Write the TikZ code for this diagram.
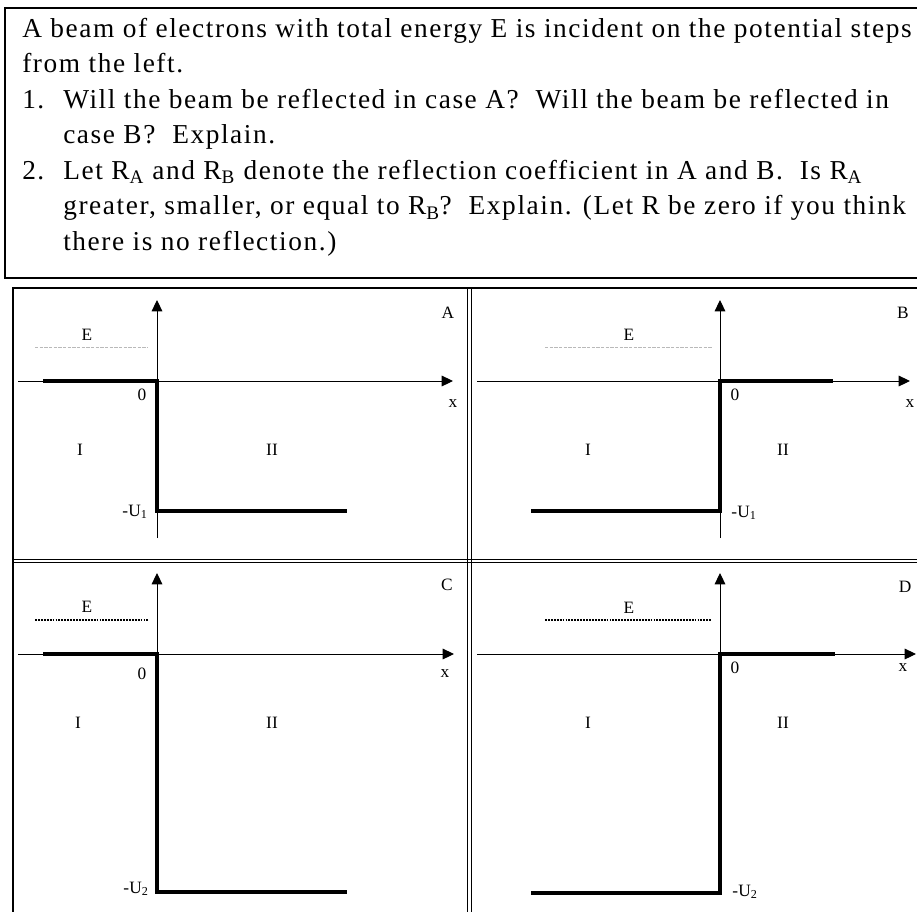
\documentclass[tikz,border=0pt]{standalone}
\usepackage{fontspec}
\setmainfont{Liberation Serif}
\usetikzlibrary{arrows.meta}

\begin{document}
\begin{tikzpicture}[
    x=0.75pt, y=-0.75pt,
    frame/.style={
        draw=black,
        line width=1.1pt
    },
    divider/.style={
        draw=black,
        line width=0.6pt
    },
    axis/.style={
        line width=0.75pt,
        -{Triangle[length=8.5pt, width=8pt]}
    },
    potential/.style={
        line width=3.2pt,
        line join=miter
    },
    energyfaint/.style={
        draw=gray!55,
        line width=0.6pt,
        dash pattern=on 2.5pt off 1pt
    },
    energydot/.style={
        draw=black,
        line width=0.9pt,
        dash pattern=on 1.4pt off 0.8pt
    },
    qtext/.style={
        align=left,
        inner sep=0pt,
        font=\fontsize{20.5}{26.6}\selectfont\addfontfeatures{LetterSpace=5.8}
    },
    lbl/.style={
        inner sep=0pt,
        font=\fontsize{13}{15}\selectfont
    }
]

\clip (0,0) rectangle (917,911);

% Question
\draw[frame] (5,8) rectangle (940,278);
\node[qtext, anchor=north west] (question) at (22,18) {
    A beam of electrons with total energy E is incident on the potential steps\\
    from the left.\\
    \makebox[30.75pt][l]{1.}Will the beam be reflected in case A?\ \ Will the beam be reflected in\\
    \hspace*{30.75pt}case B?\ \ Explain.\\
    \makebox[30.75pt][l]{2.}Let R\textsubscript{A} and R\textsubscript{B} denote the reflection coefficient in A and B.\ \ Is R\textsubscript{A}\\
    \hspace*{30.75pt}greater, smaller, or equal to R\textsubscript{B}?\ \ Explain. (Let R be zero if you think\\
    \hspace*{30.75pt}there is no reflection.)
};

% Panel frame and dividers
\draw[frame] (13,288) rectangle (940,940);
\draw[divider] (467,288) -- (467,940);
\draw[divider] (471,288) -- (471,940);
\draw[divider] (13,559.5) -- (940,559.5);
\draw[divider] (13,562.5) -- (940,562.5);

% Case A
\begin{scope}[shift={(157,381)}]
    \draw[axis] (-139,0) -- (296,0);
    \draw[axis] (0,157) -- (0,-81);
    \draw[energyfaint] (-122,-34) -- (-9,-34);
    \draw[potential] (-114,0) -- (0,0) -- (0,130) -- (190,130);
    \node[lbl] (eA) at (-70,-46) {E};
    \node[lbl] (zeroA) at (-15,14) {0};
    \node[lbl] (xA) at (296,23) {x};
    \node[lbl] (tagA) at (291,-68) {A};
    \node[lbl] (oneA) at (-77,69) {I};
    \node[lbl] (twoA) at (115,69) {II};
    \node[lbl] (uA) at (-22,131) {-U\textsubscript{1}};
\end{scope}

% Case B
\begin{scope}[shift={(720,381)}]
    \draw[axis] (-243,0) -- (190,0);
    \draw[axis] (0,157) -- (0,-81);
    \draw[energyfaint] (-175,-34) -- (-8,-34);
    \draw[potential] (-189,130) -- (0,130) -- (0,0) -- (113,0);
    \node[lbl] (eB) at (-91,-46) {E};
    \node[lbl] (zeroB) at (15,14) {0};
    \node[lbl] (xB) at (190,23) {x};
    \node[lbl] (tagB) at (183,-68) {B};
    \node[lbl] (oneB) at (-132,69) {I};
    \node[lbl] (twoB) at (63,69) {II};
    \node[lbl] (uB) at (24,132) {-U\textsubscript{1}};
\end{scope}

% Case C
\begin{scope}[shift={(157,654)}]
    \draw[axis] (-139,0) -- (297,0);
    \draw[axis] (0,238) -- (0,-81);
    \draw[energydot] (-122,-34) -- (-9,-34);
    \draw[potential] (-114,0) -- (0,0) -- (0,238) -- (190,238);
    \node[lbl] (eC) at (-70,-47) {E};
    \node[lbl] (zeroC) at (-15,20) {0};
    \node[lbl] (xC) at (288,20) {x};
    \node[lbl] (tagC) at (290,-69) {C};
    \node[lbl] (oneC) at (-79,69) {I};
    \node[lbl] (twoC) at (115,69) {II};
    \node[lbl] (uC) at (-21,235) {-U\textsubscript{2}};
\end{scope}

% Case D
\begin{scope}[shift={(720,654)}]
    \draw[axis] (-243,0) -- (196,0);
    \draw[axis] (0,239) -- (0,-81);
    \draw[energydot] (-175,-34) -- (-8,-34);
    \draw[potential] (-189,239) -- (0,239) -- (0,0) -- (115,0);
    \node[lbl] (eD) at (-91,-46) {E};
    \node[lbl] (zeroD) at (15,14) {0};
    \node[lbl] (xD) at (183,14) {x};
    \node[lbl] (tagD) at (185,-67) {D};
    \node[lbl] (oneD) at (-132,69) {I};
    \node[lbl] (twoD) at (63,69) {II};
    \node[lbl] (uD) at (25,238) {-U\textsubscript{2}};
\end{scope}

\end{tikzpicture}
\end{document}
